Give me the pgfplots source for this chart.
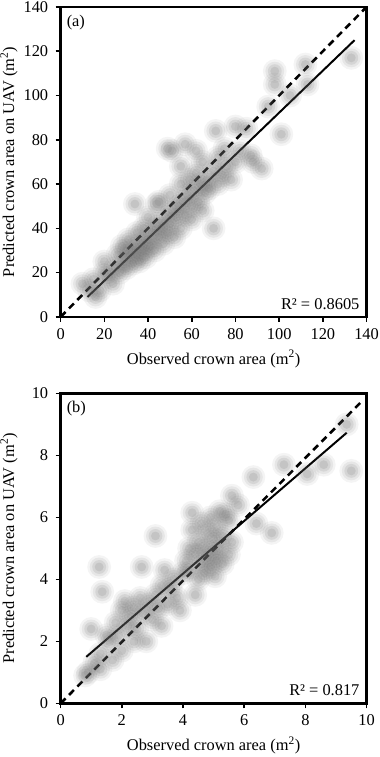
\documentclass[border=0pt]{standalone}
\usepackage{fontspec}
\setmainfont{Liberation Serif}
\usepackage{pgfplots}
\usepackage{pgfplotstable}
\pgfplotsset{compat=1.18}

\newcommand{\fs}{\fontsize{16.5}{19}\selectfont}

\pgfplotstableread{
x y
10 15
13 12
16 9
15 17
18 12
20 20
20 25
22 18
24 15
25 22
26 28
27 20
28 32
29 25
30 22
30 30
31 35
32 28
33 24
34 32
35 38
35 28
36 25
37 33
38 40
38 30
39 27
40 35
40 45
41 32
42 38
43 30
44 42
45 36
45 52
46 40
47 33
48 45
49 38
50 42
50 55
51 48
52 36
53 45
54 50
55 40
55 60
56 52
57 46
58 55
59 62
60 50
60 44
61 57
62 65
63 52
64 60
65 48
65 70
66 56
67 62
68 58
70 66
70 40
72 60
72 72
74 64
75 76
76 68
78 62
80 70
82 75
85 85
88 70
80 86
71 84
57 78
51 75
87 73
92 67
34 51
44 51
49 76
55 68
62 75
98 111
98 105
112 114
113 105
133 117
101 82.5
95 95
105 100
}\dataA

\pgfplotstableread{
x y
0.9 1.0
1.1 1.3
1.3 1.1
0.8 0.9
1.0 2.4
1.3 1.6
1.5 2.2
1.6 2.0
1.8 2.6
1.9 2.2
2.0 3.0
2.1 3.3
2.2 2.5
2.3 2.8
2.4 3.1
2.5 2.4
2.6 3.4
2.7 2.9
2.8 2.0
2.9 3.2
3.0 2.7
3.1 3.5
3.2 3.06
3.3 3.8
3.4 4.3
3.5 3.2
3.6 3.7
3.7 4.0
3.8 3.4
2.65 4.4
1.26 4.4
1.36 3.6
3.1 5.4
4.4 3.5
4.0 4.2
4.1 4.6
4.2 5.0
4.2 4.3
4.3 5.6
4.3 6.15
4.4 4.8
4.5 4.0
4.5 5.2
4.6 4.5
4.6 5.8
4.7 4.2
4.7 5.0
4.8 4.7
4.8 5.5
4.9 4.4
4.9 6.0
5.0 4.9
5.0 5.3
5.05 4.1
5.1 4.6
5.1 5.7
5.2 5.0
5.2 6.2
5.3 4.5
5.3 5.4
5.4 6.1
5.5 4.8
5.5 5.9
5.6 6.7
5.6 5.2
5.8 6.4
6.3 7.3
6.4 5.8
6.9 5.5
7.3 7.7
8.06 7.4
8.6 7.7
9.35 9.0
9.5 7.5
2.0 1.7
1.7 1.4
3.3 2.5
2.4 2.0
3.9 3.0
}\dataB

\pgfplotsset{
  panel/.style={
    scale only axis, width=308pt, height=312pt,
    axis line style={line width=2.6pt},
    tick style={line width=1.6pt, black},
    tick align=outside, major tick length=5pt,
    xtick pos=bottom, ytick pos=left,
    /pgf/number format/assume math mode=true,
    every tick label/.append style={font=\fs},
    xticklabel style={yshift=-3pt},
    yticklabel style={xshift=-4pt},
    every axis x label/.style={at={(axis description cs:0.5,-0.136)}, anchor=center, font=\fs},
    every axis y label/.style={at={(axis description cs:-0.169,0.5)}, rotate=90, anchor=center, font=\fs},
    xlabel={Observed crown area (m\textsuperscript{2})},
    ylabel={Predicted crown area on UAV (m\textsuperscript{2})},
  },
  blob1/.style={only marks, color=black!60, mark=*, mark size=12pt, mark options={draw opacity=0, line width=0pt, fill=black!60, fill opacity=0.07}},
  blob2/.style={only marks, color=black!60, mark=*, mark size=9.5pt, mark options={draw opacity=0, line width=0pt, fill=black!60, fill opacity=0.10}},
  blob3/.style={only marks, color=black!60, mark=*, mark size=7pt, mark options={draw opacity=0, line width=0pt, fill=black!60, fill opacity=0.13}},
  blob4/.style={only marks, color=black!60, mark=*, mark size=4.5pt, mark options={draw opacity=0, line width=0pt, fill=black!60, fill opacity=0.15}},
}

\begin{document}
\begin{tikzpicture}
\begin{axis}[panel, at={(0,389pt)}, anchor=south west,
  xmin=0, xmax=140, ymin=0, ymax=140,
  xtick={0,20,...,140}, ytick={0,20,...,140}]
\addplot[blob1] table {\dataA};
\addplot[blob2] table {\dataA};
\addplot[blob3] table {\dataA};
\addplot[blob4] table {\dataA};
\addplot[black, line width=2.6pt, dash pattern=on 7pt off 5pt] coordinates {(0,0) (140,140)};
\addplot[black, line width=2pt] coordinates {(12.3,9) (134.5,125)};
\node[anchor=north west, font=\fs, inner sep=1pt] at (rel axis cs:0,1) [xshift=5pt, yshift=-7pt] {(a)};
\node[anchor=south east, font=\fs, inner sep=1pt] at (rel axis cs:1,0) [xshift=-6pt, yshift=6pt] {R² = 0.8605};
\end{axis}
\begin{axis}[panel, at={(0,0)}, anchor=south west,
  xmin=0, xmax=10, ymin=0, ymax=10,
  xtick={0,2,...,10}, ytick={0,2,...,10}]
\addplot[blob1] table {\dataB};
\addplot[blob2] table {\dataB};
\addplot[blob3] table {\dataB};
\addplot[blob4] table {\dataB};
\addplot[black, line width=2.6pt, dash pattern=on 7pt off 5pt] coordinates {(0,0) (9.85,9.75)};
\addplot[black, line width=2pt] coordinates {(0.84,1.5) (9.35,8.73)};
\node[anchor=north west, font=\fs, inner sep=1pt] at (rel axis cs:0,1) [xshift=5pt, yshift=-7pt] {(b)};
\node[anchor=south east, font=\fs, inner sep=1pt] at (rel axis cs:1,0) [xshift=-6pt, yshift=6pt] {R² = 0.817};
\end{axis}
\pgfresetboundingbox
\useasboundingbox (-61pt,-54pt) rectangle (321pt,708pt);
\end{tikzpicture}
\end{document}
